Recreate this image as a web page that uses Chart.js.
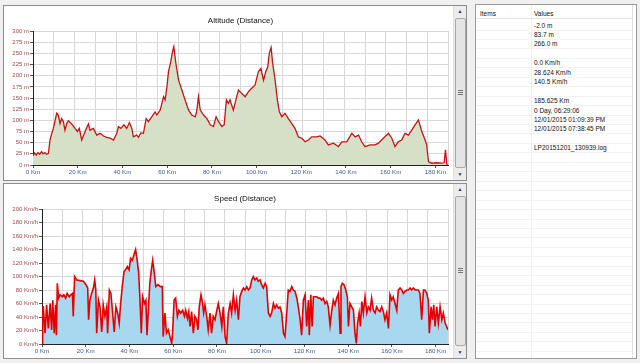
<!DOCTYPE html>
<html>
<head>
<meta charset="utf-8">
<script src="https://cdn.jsdelivr.net/npm/chart.js@4.4.1/dist/chart.umd.min.js"></script>
<style>
  body { margin: 0; width: 640px; height: 363px; background: #f0f0f0; position: relative; overflow: hidden; font-family: "Liberation Sans", Arial, sans-serif; }
  .panel { position: absolute; left: 3px; width: 464px; height: 176px; background: #fff; border: 1px solid #8c8c8c; box-sizing: border-box; }
  .panel canvas { position: absolute; left: 0; top: 0; }
  .sbar { position: absolute; right: 0; top: 0; width: 12px; height: 174px; background: #ececec; border-left: 1px solid #e0e0e0; }
  .sbar .btn { position: absolute; left: 0; width: 12px; height: 11px; font-size: 5px; line-height: 11px; text-align: center; color: #333; }
  .sbar .thumb { position: absolute; left: 1px; width: 9px; top: 12px; bottom: 12px; background: #e4e4e4; border: 1px solid #a8a8a8; border-radius: 2px; }
  .sbar .grip { position: absolute; left: 2px; width: 5px; top: 50%; margin-top: -3px; height: 5px; border-top: 1px solid #777; border-bottom: 1px solid #777; box-sizing: border-box; }
  .sbar .grip:after { content: ""; position: absolute; left: 0; right: 0; top: 1px; border-top: 1px solid #777; }
  #info { position: absolute; left: 475px; top: 4px; width: 162px; height: 355px; background: #fff; border: 1px solid #9a9a9a; box-sizing: border-box; font-size: 6.5px; color: #111; }
  #info .row { position: absolute; left: 0; right: 4px; height: 9px; border-bottom: 1px solid #f2f2f2; }
  #info .cell { position: absolute; top: 0; line-height: 9px; white-space: nowrap; }
  #info .sep { position: absolute; left: 55px; top: 0; bottom: 0; border-left: 1px solid #f0f0f0; }
  #info .rsep { position: absolute; right: 3px; top: 0; bottom: 0; border-left: 1px solid #e0e0e0; }
</style>
</head>
<body>
<div class="panel" style="top:5px;">
  <canvas id="altChart" width="451" height="174"></canvas>
  <div class="sbar"><div class="btn" style="top:0">&#9650;</div><div class="thumb"><div class="grip"></div></div><div class="btn" style="bottom:0">&#9660;</div></div>
</div>
<div class="panel" style="top:183px;">
  <canvas id="speedChart" width="451" height="174"></canvas>
  <div class="sbar"><div class="btn" style="top:0">&#9650;</div><div class="thumb"><div class="grip"></div></div><div class="btn" style="bottom:0">&#9660;</div></div>
</div>
<div id="info"><div class="sep"></div><div class="rsep"></div></div>

<script>
var totalDist = 185.625;
var distTicks = [0, 20, 40, 60, 80, 100, 120, 140, 160, 180];
var altTicks = [0, 25, 50, 75, 100, 125, 150, 175, 200, 225, 250, 275, 300];
var speedTicks = [0, 20, 40, 60, 80, 100, 120, 140, 160, 180, 200];

// altitude profile (km, m)
var altDist = [0, 0.7, 1.5, 2.2, 3, 3.8, 4.5, 5.3, 6.1, 6.9, 7.6, 8.4, 9.1, 9.9, 10.6, 11.3, 12.1, 12.8, 13.6, 14.3,
  15.1, 15.8, 17.3, 18.8, 19.9, 20.7, 21.8, 23.3, 24.3, 24.8, 25.5, 27, 28.5, 30, 31.5, 33, 34.5, 36, 37.5, 38.2,
  39.3, 40.7, 41.9, 43.1, 44.2, 44.9, 46.4, 47.2, 48.2, 49.4, 50.6, 51.6, 53.1, 54.6, 55.4, 56.9, 58.4, 59.1, 59.9, 60.6,
  61.6, 62.4, 63, 63.9, 65.1, 66.6, 68, 69.6, 71, 72.6, 73.3, 74, 74.8, 76.3, 77.8, 79.3, 80.7, 81.9, 83, 84.5,
  85.5, 86.5, 87.4, 88.1, 89.6, 91.1, 91.9, 93.4, 94.9, 96.3, 97.8, 99.3, 100.8, 101.9, 103.1, 104.1, 105, 105.7, 106.5, 107.2,
  108.3, 109.3, 110.2, 111.3, 112.7, 114.2, 115.7, 117.2, 118.7, 120.2, 121.7, 123.2, 124.7, 126.9, 128.4, 130.6, 132.1, 134.4, 136.6, 138.1,
  140.3, 142.6, 144.1, 145.6, 147, 148.5, 150.8, 153, 154.5, 156.7, 159, 160.5, 161.9, 163.4, 164.9, 166.4, 167.9, 169.4, 170.9, 172.4,
  173.9, 175.4, 176.1, 176.9, 178.4, 180.6, 182.8, 183.9, 184.5, 185.1, 185.6];
var altValues = [20, 27, 22, 28, 24, 30, 25, 28, 24, 26, 56, 71, 82, 100, 116, 112, 93, 104, 97, 78,
  93, 99, 92, 82, 75, 82, 56, 75, 87, 92, 78, 82, 67, 71, 65, 62, 60, 56, 71, 86,
  82, 90, 82, 95, 82, 63, 67, 62, 72, 71, 104, 97, 108, 119, 112, 123, 153, 146, 175, 209,
  231, 254, 265, 228, 190, 168, 146, 123, 112, 108, 123, 153, 123, 112, 104, 90, 86, 108, 97, 86,
  90, 146, 138, 146, 123, 153, 168, 160, 153, 164, 172, 179, 209, 216, 190, 209, 220, 250, 263, 228,
  190, 146, 119, 108, 116, 104, 93, 82, 63, 60, 52, 56, 63, 63, 65, 56, 45, 49, 41, 52,
  52, 71, 63, 67, 52, 41, 45, 45, 49, 60, 71, 60, 41, 52, 56, 71, 67, 78, 90, 101,
  75, 56, 45, 7, 4, 5, 4, 5, 34, 2, -2];

// speed profile (km, km/h)
var speedDist = [0, 0.3, 0.6, 1.4, 2.1, 2.9, 3.7, 4.4, 4.9, 5.6, 6.2, 6.6, 7.0, 7.6, 8.3, 9.3, 10, 10.8, 11.5, 12.5,
  13.2, 13.9, 14.3, 14.9, 15.9, 17.4, 18.9, 20.1, 20.9, 21.3, 21.9, 22.7, 23.5, 24.1, 24.6, 25, 25.8, 26.5, 27.3, 28,
  28.8, 29.6, 30, 30.8, 31.5, 32.3, 33, 33.8, 34.6, 35.3, 35.9, 36.7, 37.5, 38.2, 39, 39.8, 40.5, 41.3, 42, 42.8,
  43.6, 44.2, 44.8, 45.4, 46, 46.8, 47.5, 48, 48.7, 49.3, 50, 50.6, 51.3, 52, 53, 54.1, 55, 55.4, 56.2, 56.9,
  57.7, 58.5, 59.3, 59.7, 60.4, 61.1, 61.9, 62.6, 63.4, 64.3, 65.1, 65.7, 66.5, 67.1, 67.7, 68.4, 69.2, 69.9, 70.7, 71.3,
  71.9, 72.7, 73.3, 73.9, 74.5, 75.3, 76, 76.8, 77.5, 78.3, 79.1, 79.8, 80.6, 81.4, 82.2, 82.9, 83.7, 84.4, 85.2, 86,
  86.7, 87.5, 88.3, 89, 89.8, 90.5, 91.3, 92.1, 92.8, 93.6, 94.4, 95.1, 95.9, 96.6, 97.4, 98.2, 98.9, 99.7, 100.4, 101.2,
  102, 102.7, 103.5, 104.3, 105, 105.8, 106.5, 107.3, 108.1, 108.8, 109.6, 110.4, 111.1, 111.9, 112.6, 113.4, 114.2, 114.9, 115.7, 116.5,
  117.2, 118, 118.7, 119.5, 120.3, 121, 121.8, 122.2, 122.9, 123.5, 124.1, 124.8, 125.6, 126.4, 127.1, 127.9, 128.6, 129.4, 130.2, 130.9,
  131.7, 132.5, 133.2, 134, 134.7, 135.5, 136.3, 136.7, 137.3, 138.1, 138.9, 139.6, 140.1, 140.8, 141.6, 142.4, 143.1, 143.7, 144.3, 145,
  145.6, 146.2, 146.9, 147.7, 148.5, 149.2, 150, 150.7, 151.5, 152.3, 153, 153.8, 154.5, 155.3, 156.1, 156.8, 157.6, 158.4, 159.1, 159.9,
  160.6, 161.4, 162.2, 162.9, 163.7, 164.5, 165.2, 166, 166.8, 167.5, 168.3, 169, 169.8, 170.6, 171.3, 172.1, 172.8, 173.6, 174.4, 175.1,
  175.9, 176.6, 177.1, 177.9, 178.5, 179.1, 179.7, 180.5, 181.2, 182, 182.8, 183.5, 184.3, 185, 185.6];
var speedValues = [0, 55, 55, 16, 58, 23, 60, 21, 65, 16, 58, 13, 90, 68, 73, 70, 73, 68, 75, 70,
  73, 75, 41, 100, 95, 94, 93, 88, 83, 36, 65, 75, 83, 95, 80, 16, 65, 55, 18, 58,
  41, 55, 16, 80, 75, 46, 18, 55, 46, 31, 58, 85, 107, 110, 115, 110, 127, 124, 132, 140,
  122, 105, 65, 16, 70, 60, 65, 13, 55, 90, 110, 124, 107, 85, 88, 85, 85, 11, 46, 16,
  21, 11, 1, 16, 65, 68, 41, 50, 46, 50, 41, 50, 38, 48, 26, 48, 16, 41, 36, 21,
  55, 73, 63, 46, 58, 41, 21, 46, 16, 41, 36, 48, 60, 46, 26, 55, 11, 1, 46, 60,
  46, 73, 50, 65, 36, 70, 78, 83, 80, 85, 80, 83, 95, 100, 95, 98, 93, 95, 88, 83,
  90, 85, 46, 41, 46, 60, 53, 58, 53, 55, 46, 16, 11, 46, 80, 78, 85, 80, 78, 68,
  55, 36, 13, 65, 73, 26, 65, 13, 73, 26, 70, 70, 70, 68, 68, 65, 68, 60, 63, 55,
  28, 50, 65, 58, 68, 75, 16, 85, 90, 88, 80, 70, 26, 60, 55, 50, 16, 1, 31, 46,
  26, 63, 46, 70, 46, 55, 50, 68, 50, 46, 55, 50, 48, 55, 48, 36, 46, 23, 73, 65,
  70, 60, 50, 80, 83, 80, 75, 78, 80, 80, 83, 80, 83, 80, 80, 80, 75, 36, 80, 80,
  75, 65, 16, 55, 36, 58, 26, 55, 31, 55, 36, 46, 31, 26, 21];

var infoItems = ['', '', '', '', '', '', '', '', '', '', '', '', '', ''];
var infoValues = ['-2.0 m', '83.7 m', '266.0 m', '', '0.0 Km/h', '28.624 Km/h', '140.5 Km/h', '',
  '185.625 Km', '0 Day, 06:29:06', '12/01/2015 01:09:39 PM', '12/01/2015 07:38:45 PM', '', 'LP20151201_130939.log'];

// info table on the right
var info = document.getElementById('info');
function addRow(top, a, b, header) {
  var r = document.createElement('div');
  r.className = 'row';
  r.style.top = top + 'px';
  if (header) r.style.borderBottom = '1px solid #e4e4e4';
  r.innerHTML = '<div class="cell" style="left:4px">' + a + '</div><div class="cell" style="left:58px">' + b + '</div>';
  info.appendChild(r);
}
addRow(4, 'Items', 'Values', true);
for (var i = 0; i < infoValues.length; i++) {
  addRow(15.5 + i * 9.45, infoItems[i], infoValues[i], false);
}
for (var j = infoValues.length; j < 36; j++) {
  addRow(15.5 + j * 9.45, '', '', false);
}

var fontFam = '"Liberation Sans", Arial, sans-serif';

function toPoints(xs, ys) {
  var pts = [];
  for (var i = 0; i < xs.length; i++) pts.push({ x: xs[i], y: ys[i] });
  return pts;
}

function makeChart(id, title, xs, ys, yTicks, unit, yWidth, xHeight, lineColor, fillColor, lineWidth) {
  var gridTicks = [];
  for (var k = 0; k <= 20; k++) gridTicks.push({ value: totalDist * k / 20 });
  return new Chart(document.getElementById(id), {
    type: 'line',
    data: {
      datasets: [{
        data: toPoints(xs, ys),
        borderColor: lineColor,
        backgroundColor: fillColor,
        borderWidth: lineWidth,
        fill: 'origin',
        pointRadius: 0,
        tension: 0,
        xAxisID: 'x',
        yAxisID: 'y'
      }]
    },
    options: {
      animation: false,
      responsive: false,
      layout: { padding: { left: 0, right: 7, top: 0, bottom: 0 } },
      plugins: {
        legend: { display: false },
        tooltip: { enabled: false },
        title: {
          display: true,
          fullSize: false,
          text: title,
          color: '#111',
          font: { family: fontFam, size: 8, weight: 'normal' },
          padding: { top: 9.5, bottom: 6 }
        }
      },
      scales: {
        x: {
          type: 'linear',
          position: 'bottom',
          min: 0,
          max: totalDist,
          weight: 1,
          afterBuildTicks: function (s) { s.ticks = distTicks.map(function (v) { return { value: v }; }); },
          ticks: {
            autoSkip: false, maxRotation: 0, padding: 1, color: '#3f5c8e',
            font: { family: fontFam, size: 6.2 },
            callback: function (v) { return v + ' Km'; }
          },
          grid: { drawOnChartArea: false, tickLength: 3, tickColor: '#555' },
          border: { color: '#222', width: 1 },
          afterFit: function (s) { s.height = xHeight; }
        },
        xg: {
          type: 'linear',
          position: 'bottom',
          min: 0,
          max: totalDist,
          weight: 0,
          afterBuildTicks: function (s) { s.ticks = gridTicks.slice(); },
          ticks: { display: false },
          grid: { color: '#d8d8d8', drawTicks: false, tickLength: 0 },
          border: { display: false },
          afterFit: function (s) { s.height = 0; }
        },
        y: {
          min: yTicks[0],
          max: yTicks[yTicks.length - 1],
          afterBuildTicks: function (s) { s.ticks = yTicks.map(function (v) { return { value: v }; }); },
          ticks: {
            padding: 1, color: '#a4484a',
            font: { family: fontFam, size: 6 },
            callback: function (v) { return v + ' ' + unit; }
          },
          grid: { color: '#d8d8d8', tickLength: 3, tickColor: '#555' },
          border: { color: '#222', width: 1 },
          afterFit: function (s) { s.width = yWidth; }
        }
      }
    }
  });
}

makeChart('altChart', 'Altitude (Distance)', altDist, altValues, altTicks, 'm', 29, 15,
  '#c81414', '#d5e0c6', 1.3);
makeChart('speedChart', 'Speed (Distance)', speedDist, speedValues, speedTicks, 'Km/h', 38, 14,
  '#e60000', '#a8d8f0', 1.6);
</script>
</body>
</html>
